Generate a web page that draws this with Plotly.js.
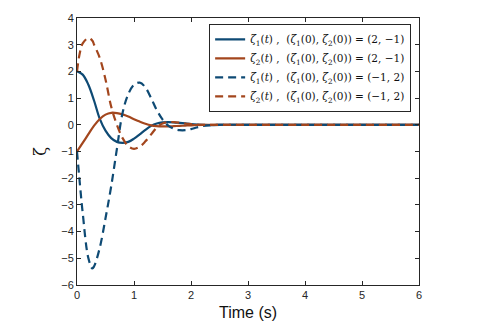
<!DOCTYPE html>
<html>
<head>
<meta charset="utf-8">
<script src="https://cdn.plot.ly/plotly-3.0.1.min.js"></script>
<style>
  html, body { margin: 0; padding: 0; background: #fff; }
  #chart { width: 482px; height: 335px; }
</style>
</head>
<body>
<div id="chart"></div>
<script>
// time samples (s)
const timeA = [0, 0.1, 0.2, 0.3, 0.4, 0.5, 0.6, 0.7, 0.8, 0.9, 1.0, 1.1, 1.2, 1.3, 1.4,
  1.5, 1.6, 1.7, 1.8, 1.9, 2.0, 2.2, 2.4, 2.6, 3, 4, 5, 6];

// initial condition (2, -1)
const zeta1A = [2.0, 1.88, 1.5, 0.9, 0.22, -0.22, -0.5, -0.64, -0.68, -0.64, -0.52, -0.36,
  -0.19, -0.04, 0.05, 0.09, 0.1, 0.09, 0.07, 0.05, 0.03, 0.0, -0.01, 0, 0, 0, 0, 0];
const zeta2A = [-1.0, -0.68, -0.35, -0.03, 0.22, 0.38, 0.45, 0.44, 0.39, 0.31, 0.21, 0.12,
  0.04, -0.02, -0.05, -0.06, -0.06, -0.05, -0.04, -0.03, -0.02, 0, 0, 0, 0, 0, 0, 0];

// initial condition (-1, 2)
const timeB = [0, 0.05, 0.1, 0.2, 0.27, 0.3, 0.4, 0.5, 0.6, 0.7, 0.8, 0.9, 1.0, 1.1, 1.2,
  1.3, 1.4, 1.5, 1.6, 1.7, 1.8, 1.9, 2.0, 2.1, 2.2, 2.3, 2.5, 3, 4, 5, 6];
const zeta1B = [-1.0, -2.2, -3.3, -5.0, -5.38, -5.3, -4.6, -3.5, -2.3, -0.9, 0.45, 1.15,
  1.5, 1.58, 1.4, 1.0, 0.55, 0.2, -0.03, -0.15, -0.2, -0.2, -0.16, -0.1, -0.05, -0.02,
  0, 0, 0, 0, 0];
const zeta2B = [2.0, 2.7, 3.05, 3.25, 3.15, 3.0, 2.5, 1.7, 0.68, 0.0, -0.5, -0.8, -0.9,
  -0.82, -0.62, -0.36, -0.1, 0.05, 0.1, 0.1, 0.08, 0.05, 0.03, 0.01, 0, 0, 0, 0, 0, 0, 0];

const legendNames = [
  '<i>ζ</i><sub>1</sub>(<i>t</i>) ,  (<i>ζ</i><sub>1</sub>(0), <i>ζ</i><sub>2</sub>(0)) = (2, −1)',
  '<i>ζ</i><sub>2</sub>(<i>t</i>) ,  (<i>ζ</i><sub>1</sub>(0), <i>ζ</i><sub>2</sub>(0)) = (2, −1)',
  '<i>ζ</i><sub>1</sub>(<i>t</i>) ,  (<i>ζ</i><sub>1</sub>(0), <i>ζ</i><sub>2</sub>(0)) = (−1, 2)',
  '<i>ζ</i><sub>2</sub>(<i>t</i>) ,  (<i>ζ</i><sub>1</sub>(0), <i>ζ</i><sub>2</sub>(0)) = (−1, 2)'
];

const BLUE = '#0e4a74';
const ORANGE = '#a3461d';
const DASH = '8px,5px';

const traces = [
  {x: timeA, y: zeta1A, mode: 'lines', name: legendNames[0],
   line: {color: BLUE, width: 2.2, shape: 'spline'}},
  {x: timeA, y: zeta2A, mode: 'lines', name: legendNames[1],
   line: {color: ORANGE, width: 2.2, shape: 'spline'}},
  {x: timeB, y: zeta1B, mode: 'lines', name: legendNames[2],
   line: {color: BLUE, width: 2.2, shape: 'spline', dash: DASH}},
  {x: timeB, y: zeta2B, mode: 'lines', name: legendNames[3],
   line: {color: ORANGE, width: 2.2, shape: 'spline', dash: DASH}}
];

const axisCommon = {
  showgrid: false,
  zeroline: false,
  showline: true,
  linecolor: '#262626',
  linewidth: 1,
  mirror: 'ticks',
  ticks: 'inside',
  ticklen: 4,
  tickcolor: '#262626',
  tickfont: {family: 'Liberation Sans, Arial, sans-serif', size: 11, color: '#262626'},
};

const layout = {
  width: 482,
  height: 335,
  margin: {l: 77, r: 63, t: 18, b: 50},
  paper_bgcolor: '#ffffff',
  plot_bgcolor: '#ffffff',
  showlegend: true,
  legend: {
    x: 0.977, y: 0.978, xanchor: 'right', yanchor: 'top',
    bgcolor: '#ffffff', bordercolor: '#262626', borderwidth: 1,
    font: {family: 'DejaVu Serif, Liberation Serif, serif', size: 10.5, color: '#111'},
    tracegroupgap: 0,
    itemwidth: 30
  },
  xaxis: Object.assign({}, axisCommon, {
    range: [0, 6],
    tickvals: [0, 1, 2, 3, 4, 5, 6],
    title: {text: 'Time (s)', font: {family: 'Liberation Sans, Arial, sans-serif', size: 16, color: '#111'}, standoff: 6}
  }),
  yaxis: Object.assign({}, axisCommon, {
    range: [-6, 4],
    tickvals: [-6, -5, -4, -3, -2, -1, 0, 1, 2, 3, 4],
    title: {text: 'ζ', font: {family: 'DejaVu Serif, serif', size: 16, color: '#111'}, standoff: 10}
  })
};

Plotly.newPlot('chart', traces, layout, {displayModeBar: false, staticPlot: true});
</script>
</body>
</html>
